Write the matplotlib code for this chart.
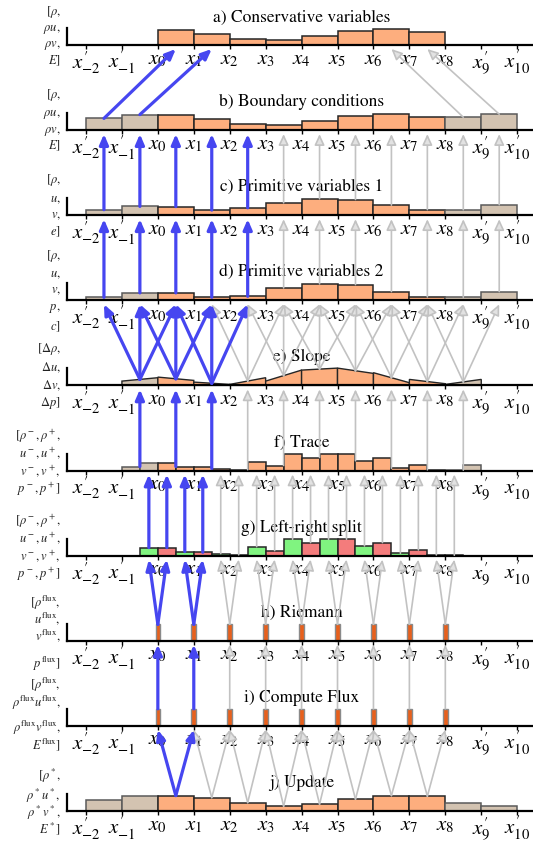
import numpy as np
import matplotlib.pyplot as plt
from matplotlib.patches import ConnectionPatch, Polygon

plt.rcParams['mathtext.fontset'] = 'stix'
plt.rcParams['font.family'] = ['STIXGeneral', 'DejaVu Sans']

# ---- data -------------------------------------------------------------
tick_pos = list(range(-2, 11))
tick_labels = [r"$x^{\prime}_{-2}$", r"$x^{\prime}_{-1}$", r"$x_0$", r"$x_1$", r"$x_2$",
               r"$x_3$", r"$x_4$", r"$x_5$", r"$x_6$", r"$x_7$", r"$x_8$",
               r"$x^{\prime}_9$", r"$x^{\prime}_{10}$"]

titles = ["a) Conservative variables", "b) Boundary conditions",
          "c) Primitive variables 1", "d) Primitive variables 2", "e) Slope",
          "f) Trace", "g) Left-right split", "h) Riemann", "i) Compute Flux",
          "j) Update"]

side_labels = [
    [r'$[\rho,$', r'$\rho u,$', r'$\rho v,$', r'$E]$'],
    [r'$[\rho,$', r'$\rho u,$', r'$\rho v,$', r'$E]$'],
    [r'$[\rho,$', r'$u,$', r'$v,$', r'$e]$'],
    [r'$[\rho,$', r'$u,$', r'$v,$', r'$p,$', r'$c]$'],
    [r'$[\Delta\rho,$', r'$\Delta u,$', r'$\Delta v,$', r'$\Delta p]$'],
    [r'$[\rho^-,\rho^+,$', r'$u^-,u^+,$', r'$v^-,v^+,$', r'$p^-,p^+]$'],
    [r'$[\rho^-,\rho^+,$', r'$u^-,u^+,$', r'$v^-,v^+,$', r'$p^-,p^+]$'],
    [r'$[\rho^{\mathrm{flux}},$', r'$u^{\mathrm{flux}},$', r'$v^{\mathrm{flux}},$',
     r'$p^{\mathrm{flux}}]$'],
    [r'$[\rho^{\mathrm{flux}},$', r'$\rho^{\mathrm{flux}}u^{\mathrm{flux}},$',
     r'$\rho^{\mathrm{flux}}v^{\mathrm{flux}},$', r'$E^{\mathrm{flux}}]$'],
    [r'$[\rho^*,$', r'$\rho^*u^*,$', r'$\rho^*v^*,$', r'$E^*]$'],
]
# vertical offset (px above the axis line) of each side label line
side_offsets = [
    [33, 16, -1, -16], [35, 16, -1, -16], [35, 16, -1, -17], [44, 26, 9, -8, -27],
    [36, 18, 0, -18], [34, 17, -1, -19], [34, 17, -1, -19], [38, 22, 5, -23],
    [41, 23, -2, -19], [35, 15, -2, -18],
]

cells = np.arange(-2, 10)          # left edge of every cell, ghosts included
is_ghost = [True, True] + [False] * 8 + [True, True]

cons_a = [15.0, 11.5, 6.0, 4.7, 9.5, 14.5, 15.8, 12.7]            # cells 0..7
bound_b = [11.7, 15.5, 15.0, 11.5, 6.0, 4.7, 9.5, 14.5, 15.8, 12.7, 12.9, 15.9]
prim1_c = [5.5, 8.8, 8.6, 5.1, 7.4, 12.4, 16.4, 15.7, 10.1, 5.6, 5.5, 10.5]
prim2_d = [3.0, 7.4, 7.4, 3.0, 4.0, 12.4, 16.4, 15.7, 8.7, 3.4, 3.1, 8.7]

rec_cells = np.arange(-1, 9)       # cells with a reconstruction
rec_ghost = [True] + [False] * 8 + [True]
slope_left = [4.3, 8.3, 3.3, 1.0, 4.3, 15.3, 17.3, 12.7, 6.0, 1.0]
slope_right = [7.7, 5.0, 1.0, 7.7, 15.3, 17.3, 12.0, 2.7, 1.7, 6.0]
trace_left = [4.0, 8.0, 3.3, 0.8, 5.0, 13.0, 16.3, 13.0, 5.7, 0.4]
trace_right = [8.0, 4.0, 2.0, 9.0, 16.3, 16.3, 9.7, 2.3, 0.7, 5.7]

faces = np.arange(0, 9)
riemann_h = [16.4, 16.4, 16.4, 16.4, 16.4, 16.4, 16.4, 16.4, 16.4]
flux_i = [17.0, 17.0, 17.0, 17.0, 17.0, 17.0, 17.0, 17.0, 17.0]

update_j = [10.7, 15.3, 15.3, 13.3, 8.3, 4.7, 6.7, 11.7, 15.3, 14.7, 8.0, 4.7]

# ---- style ------------------------------------------------------------
ORANGE, ORANGE_EC = '#fdae7e', '#262626'
TAN, TAN_EC = '#d3c3b1', '#5a5a5a'
GREEN, RED = '#80f480', '#f47c7c'
FLUX, FLUX_EC = '#e8601c', '#8a8a8a'
BLUE = '#4646f0'
GRAY, GRAY_FC = '#c2c2c2', '#e2e2e2'

W, H = 533, 842
left_px = 67.3
xmin, xmax = -2.52, 10.44
fig = plt.figure(figsize=(W / 100, H / 100), dpi=100)

axes = []
for p in range(10):
    base = 45 + 85.1 * p
    ax = fig.add_axes([left_px / W, 1 - base / H, 1 - left_px / W, 17 / H])
    ax.set_xlim(xmin, xmax)
    ax.set_ylim(0, 17)
    ax.patch.set_visible(False)
    for s in ['top', 'right']:
        ax.spines[s].set_visible(False)
    for s in ['left', 'bottom']:
        ax.spines[s].set_linewidth(1.6)
        ax.spines[s].set_zorder(3)
    ax.set_yticks([])
    ax.set_xticks(tick_pos, tick_labels)
    ax.tick_params(axis='x', direction='out', length=3, width=1, labelsize=15, pad=0)
    ax.text(4.0, 27 if p == 0 else 28, titles[p], ha='center', va='center', fontsize=12.5)
    for lab, off in zip(side_labels[p], side_offsets[p]):
        ax.text(-2.70, off, lab, ha='right', va='center', fontsize=9, color='#222222',
                clip_on=False)
    axes.append(ax)


def cell_bars(ax, xs, vals, ghosts):
    fc = [TAN if g else ORANGE for g in ghosts]
    ec = [TAN_EC if g else ORANGE_EC for g in ghosts]
    ax.bar(np.asarray(xs) + 0.5, vals, width=1.0, color=fc, edgecolor=ec,
           linewidth=1.1, clip_on=False, zorder=2)


cell_bars(axes[0], np.arange(0, 8), cons_a, [False] * 8)
cell_bars(axes[1], cells, bound_b, is_ghost)
cell_bars(axes[2], cells, prim1_c, is_ghost)
cell_bars(axes[3], cells, prim2_d, is_ghost)

# slope: piecewise linear top in every cell
for k, lv, rv, g in zip(rec_cells, slope_left, slope_right, rec_ghost):
    axes[4].add_patch(Polygon([(k, 0), (k, lv), (k + 1, rv), (k + 1, 0)], closed=True,
                              fc=TAN if g else ORANGE, ec=ORANGE_EC, lw=1.0,
                              clip_on=False, zorder=2))

# trace: left / right half of each cell
for k, lv, rv, g in zip(rec_cells, trace_left, trace_right, rec_ghost):
    fc = TAN if g else ORANGE
    ec = TAN_EC if g else ORANGE_EC
    axes[5].bar([k + 0.25, k + 0.75], [lv, rv], width=0.5, color=fc, edgecolor=ec,
                linewidth=1.1, clip_on=False, zorder=2)

# left-right split at every face
for k in faces:
    axes[6].bar(k - 0.25, trace_right[k], width=0.5, color=GREEN, edgecolor=ORANGE_EC,
                linewidth=1.1, clip_on=False, zorder=2)
    axes[6].bar(k + 0.25, trace_left[k + 1], width=0.5, color=RED, edgecolor=ORANGE_EC,
                linewidth=1.1, clip_on=False, zorder=2)

axes[7].bar(faces, riemann_h, width=0.13, color=FLUX, edgecolor=FLUX_EC, linewidth=1.0,
            clip_on=False, zorder=2)
axes[8].bar(faces, flux_i, width=0.13, color=FLUX, edgecolor=FLUX_EC, linewidth=1.0,
            clip_on=False, zorder=2)
cell_bars(axes[9], cells, update_j, is_ghost)


# ---- arrows -----------------------------------------------------------
def surface(p, x):
    if p in (1, 2, 3):
        vals = [bound_b, prim1_c, prim2_d][p - 1]
        return vals[int(np.floor(x)) + 2]
    if p == 4:
        i = int(np.floor(x)) + 1
        return (slope_left[i] + slope_right[i]) / 2
    if p == 5:
        i = int(np.floor(x)) + 1
        return min(trace_left[i], trace_right[i])
    if p == 6:
        k = int(round(x))
        return trace_right[k] if x < k else trace_left[k + 1]
    if p == 7:
        return riemann_h[int(round(x))]
    if p == 8:
        return flux_i[int(round(x))]
    return update_j[int(np.floor(x)) + 2]


links = []   # (upper panel, x in lower panel, x in upper panel, blue?)
links += [(0, -1.5, 0.5, True), (0, -0.5, 1.5, True),
          (0, 8.5, 6.5, False), (0, 9.5, 7.5, False)]
for p in (1, 2):
    for c in cells:
        links.append((p, c + 0.5, c + 0.5, c <= 2))
for c in rec_cells:
    for d in (-1, 0, 1):
        links.append((3, c + 0.5, c + 0.5 + d, c <= 1))
    links.append((4, c + 0.5, c + 0.5, c <= 1))
for k in faces:
    for d in (-0.25, 0.25):
        links.append((5, k + d, k + d, k <= 1))
        links.append((6, k, k + d, k <= 1))
    links.append((7, k, k, k <= 1))
for c in range(0, 8):
    links.append((8, c + 0.5, c, c == 0))
    links.append((8, c + 0.5, c + 1, c == 0))

for blue in (False, True):
    for p, xa, xb, b in links:
        if b != blue:
            continue
        if blue:
            kw = dict(arrowstyle='-|>,head_length=0.6,head_width=0.26', mutation_scale=10,
                      ec=BLUE, fc=BLUE, lw=2.3, zorder=5)
        else:
            kw = dict(arrowstyle='-|>,head_length=0.65,head_width=0.3', mutation_scale=10,
                      ec=GRAY, fc=GRAY_FC, lw=1.2, zorder=4)
        con = ConnectionPatch(xyA=(xa, surface(p + 1, xa)), coordsA=axes[p + 1].transData,
                              xyB=(xb, -4), coordsB=axes[p].transData,
                              shrinkA=0, shrinkB=0, clip_on=False, **kw)
        fig.add_artist(con)

fig.savefig('out.png', dpi=100, facecolor='white')
